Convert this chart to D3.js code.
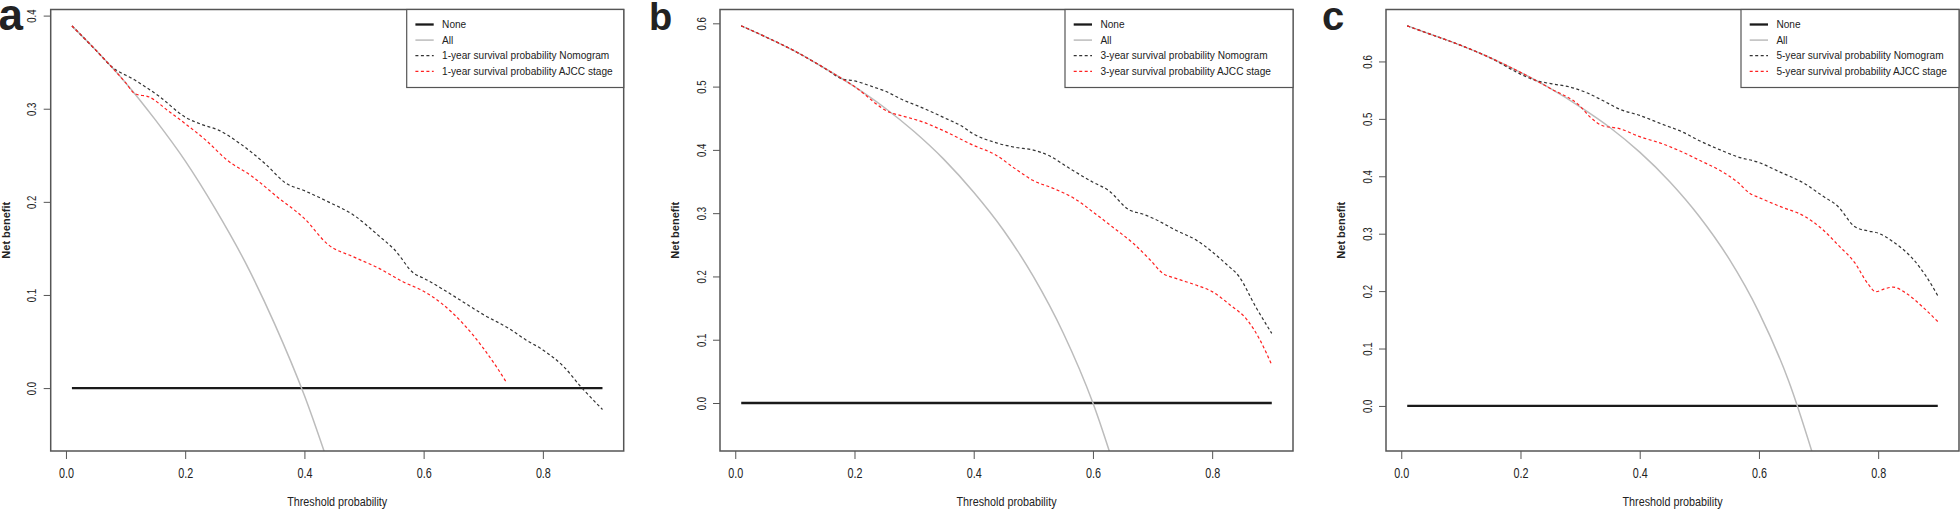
<!DOCTYPE html>
<html lang="en">
<head>
  <meta charset="UTF-8">
  <title>Decision curves</title>
  <script src="https://cdn.jsdelivr.net/npm/d3@7"></script>
  <style>
    body { margin: 0; background: #fff; }
    svg text { font-family: "Liberation Sans", Arial, Helvetica, sans-serif; fill: #222; }
  </style>
</head>
<body>
  <script>
    // data: [threshold, net benefit]
    var xTicks = [0, 0.2, 0.4, 0.6, 0.8];
    var yTicksA = [0, 0.1, 0.2, 0.3, 0.4];
    var yTicksB = [0, 0.1, 0.2, 0.3, 0.4, 0.5, 0.6];
    var yTicksC = [0, 0.1, 0.2, 0.3, 0.4, 0.5, 0.6];
    var noneLine = [[0.01, 0], [0.9, 0]];

    var allA = [[0.01,0.389],[0.05,0.363],[0.1,0.328],[0.15,0.288],[0.2,0.244],[0.25,0.193],[0.3,0.136],[0.35,0.069],[0.4,-0.008],[0.45,-0.100]];
    var nomA = [[0.01,0.389],[0.05,0.363],[0.077,0.345],[0.115,0.331],[0.157,0.313],[0.2,0.291],[0.228,0.283],[0.256,0.277],[0.291,0.263],[0.334,0.241],[0.369,0.220],[0.4,0.212],[0.44,0.200],[0.482,0.186],[0.524,0.164],[0.552,0.148],[0.584,0.123],[0.6,0.118],[0.63,0.107],[0.665,0.093],[0.7,0.079],[0.743,0.064],[0.771,0.052],[0.8,0.041],[0.835,0.023],[0.863,0.002],[0.9,-0.023]];
    var ajccA = [[0.01,0.389],[0.05,0.363],[0.1,0.328],[0.116,0.316],[0.14,0.3125],[0.171,0.298],[0.2,0.284],[0.235,0.266],[0.27,0.245],[0.313,0.227],[0.355,0.205],[0.4,0.182],[0.44,0.154],[0.482,0.141],[0.524,0.129],[0.566,0.114],[0.6,0.104],[0.63,0.091],[0.665,0.070],[0.7,0.043],[0.722,0.023],[0.738,0.007]];

    var allB = [[0.01,0.596],[0.05,0.579],[0.1,0.556],[0.15,0.529],[0.2,0.5],[0.25,0.467],[0.3,0.429],[0.35,0.385],[0.4,0.333],[0.45,0.273],[0.5,0.2],[0.55,0.111],[0.6,0.0],[0.65,-0.143]];
    var nomB = [[0.01,0.596],[0.05,0.579],[0.1,0.556],[0.15,0.529],[0.18,0.512],[0.2,0.509],[0.23,0.500],[0.251,0.493],[0.279,0.480],[0.315,0.466],[0.35,0.451],[0.379,0.438],[0.4,0.425],[0.435,0.412],[0.47,0.404],[0.499,0.400],[0.526,0.391],[0.562,0.370],[0.6,0.349],[0.626,0.336],[0.661,0.305],[0.682,0.299],[0.703,0.291],[0.739,0.273],[0.774,0.257],[0.8,0.239],[0.823,0.220],[0.845,0.200],[0.873,0.152],[0.9,0.110]];
    var ajccB = [[0.01,0.596],[0.05,0.579],[0.1,0.556],[0.15,0.529],[0.2,0.5],[0.26,0.459],[0.279,0.454],[0.315,0.444],[0.35,0.430],[0.4,0.407],[0.435,0.393],[0.47,0.370],[0.499,0.352],[0.534,0.339],[0.569,0.323],[0.6,0.302],[0.633,0.278],[0.668,0.252],[0.696,0.226],[0.717,0.205],[0.739,0.197],[0.774,0.186],[0.8,0.176],[0.83,0.155],[0.859,0.131],[0.88,0.100],[0.9,0.060]];

    var allC = [[0.01,0.662],[0.05,0.647],[0.1,0.628],[0.15,0.606],[0.2,0.581],[0.25,0.553],[0.3,0.521],[0.35,0.485],[0.4,0.442],[0.45,0.391],[0.5,0.330],[0.55,0.256],[0.6,0.163],[0.65,0.043],[0.7,-0.117]];
    var nomC = [[0.01,0.662],[0.05,0.647],[0.1,0.628],[0.15,0.606],[0.2,0.578],[0.225,0.567],[0.253,0.561],[0.281,0.556],[0.31,0.546],[0.338,0.532],[0.366,0.517],[0.4,0.506],[0.437,0.491],[0.472,0.477],[0.5,0.462],[0.535,0.446],[0.564,0.434],[0.6,0.424],[0.634,0.408],[0.677,0.387],[0.705,0.367],[0.733,0.347],[0.761,0.312],[0.782,0.305],[0.8,0.301],[0.825,0.286],[0.86,0.254],[0.881,0.225],[0.9,0.192]];
    var ajccC = [[0.01,0.662],[0.05,0.647],[0.1,0.628],[0.15,0.606],[0.2,0.581],[0.25,0.553],[0.3,0.522],[0.317,0.503],[0.338,0.488],[0.366,0.483],[0.4,0.469],[0.437,0.457],[0.472,0.442],[0.5,0.428],[0.535,0.410],[0.564,0.390],[0.585,0.370],[0.6,0.363],[0.634,0.348],[0.677,0.330],[0.705,0.309],[0.733,0.280],[0.761,0.249],[0.782,0.214],[0.796,0.199],[0.811,0.204],[0.825,0.207],[0.846,0.197],[0.874,0.173],[0.9,0.147]];

    var panels = [
      { letter: "a", years: "1-year", all: allA, nom: nomA, ajcc: ajccA, yTicks: yTicksA },
      { letter: "b", years: "3-year", all: allB, nom: nomB, ajcc: ajccB, yTicks: yTicksB },
      { letter: "c", years: "5-year", all: allC, nom: nomC, ajcc: ajccC, yTicks: yTicksC }
    ];

    // layout (pixels) for each panel
    var layout = [
      { left: 50.7, legendW: 217, letterX: -1.5, letterSize: 44 },
      { left: 720,  legendW: 228, letterX: 649,  letterSize: 38 },
      { left: 1386, legendW: 218, letterX: 1322, letterSize: 40 }
    ];
    var boxW = 573, boxTop = 9.5, boxBottom = 451;

    var svg = d3.select("body").append("svg")
      .attr("width", 1960).attr("height", 510);

    // R style axis range: data range padded by 4%
    function pad(lo, hi) {
      var s = hi - lo;
      return [lo - 0.04 * s, hi + 0.04 * s];
    }

    panels.forEach(function(p, i) {
      var L = layout[i];
      var g = svg.append("g");

      var scaleX = d3.scaleLinear().domain(pad(0.01, 0.9)).range([L.left, L.left + boxW]);
      var yMax = d3.max(p.all.concat(p.nom, p.ajcc), d => d[1]);
      var scaleY = d3.scaleLinear().domain(pad(-0.05, yMax)).range([boxBottom, boxTop]);

      var line = d3.line()
        .x(d => scaleX(d[0]))
        .y(d => scaleY(d[1]))
        .curve(d3.curveMonotoneX);

      g.append("clipPath").attr("id", "clip" + i)
        .append("rect")
        .attr("x", L.left).attr("y", boxTop)
        .attr("width", boxW).attr("height", boxBottom - boxTop);

      var plot = g.append("g").attr("clip-path", "url(#clip" + i + ")");

      /* LINES */
      plot.append("path").attr("d", line(noneLine))
        .attr("fill", "none").attr("stroke", "#1a1a1a").attr("stroke-width", 2.3);
      plot.append("path").attr("d", line(p.all))
        .attr("fill", "none").attr("stroke", "#bcbcbc").attr("stroke-width", 1.5);
      plot.append("path").attr("d", line(p.nom))
        .attr("fill", "none").attr("stroke", "#333").attr("stroke-width", 1.2)
        .attr("stroke-dasharray", "3,2.5");
      plot.append("path").attr("d", line(p.ajcc))
        .attr("fill", "none").attr("stroke", "#ff2020").attr("stroke-width", 1.2)
        .attr("stroke-dasharray", "3,2.5");

      /* AXES */
      var axisX = d3.axisBottom(scaleX).tickValues(xTicks)
        .tickFormat(d3.format(".1f")).tickSize(8).tickPadding(9);
      var gx = g.append("g").attr("transform", "translate(0," + boxBottom + ")").call(axisX);
      gx.select(".domain").remove();
      gx.selectAll("line").attr("stroke", "#555");
      gx.selectAll("text").attr("font-size", 14).attr("fill", "#222")
        .attr("font-family", null)
        .attr("transform", "scale(0.77,1)");

      var axisY = d3.axisLeft(scaleY).tickValues(p.yTicks)
        .tickFormat(d3.format(".1f")).tickSize(7);
      var gy = g.append("g").attr("transform", "translate(" + L.left + ",0)").call(axisY);
      gy.select(".domain").remove();
      gy.selectAll("line").attr("stroke", "#555");
      gy.selectAll("text")
        .attr("x", null).attr("dy", null)
        .attr("font-size", 13).attr("fill", "#222")
        .attr("font-family", null)
        .attr("text-anchor", "middle")
        .attr("transform", "translate(-14.4,0) rotate(-90) scale(0.74,1)");

      // box
      g.append("rect")
        .attr("x", L.left).attr("y", boxTop)
        .attr("width", boxW).attr("height", boxBottom - boxTop)
        .attr("fill", "none").attr("stroke", "#555").attr("stroke-width", 1.5);

      // axis titles
      g.append("text")
        .attr("transform", "translate(" + (L.left + boxW / 2) + ",506) scale(0.83,1)")
        .attr("text-anchor", "middle").attr("font-size", 13)
        .text("Threshold probability");

      g.append("text")
        .attr("transform", "translate(" + (L.left - 41) + "," + ((boxTop + boxBottom) / 2) + ") rotate(-90)")
        .attr("text-anchor", "middle").attr("font-size", 11).attr("font-weight", "bold")
        .text("Net benefit");

      // panel letter
      g.append("text")
        .attr("x", L.letterX).attr("y", 30)
        .attr("font-size", L.letterSize).attr("font-weight", "bold").attr("fill", "#000")
        .text(p.letter);

      /* LEGEND */
      var legX = L.left + boxW - L.legendW;
      var items = [
        { label: "None", stroke: "#1a1a1a", width: 2.3, dash: null },
        { label: "All", stroke: "#bcbcbc", width: 1.5, dash: null },
        { label: p.years + " survival probability Nomogram", stroke: "#333", width: 1.2, dash: "3,2.5" },
        { label: p.years + " survival probability AJCC stage", stroke: "#ff2020", width: 1.2, dash: "3,2.5" }
      ];
      g.append("rect")
        .attr("x", legX).attr("y", boxTop)
        .attr("width", L.legendW).attr("height", 78)
        .attr("fill", "#fff").attr("stroke", "#555").attr("stroke-width", 1.2);

      var leg = g.selectAll(".leg").data(items).enter().append("g")
        .attr("transform", (d, k) => "translate(" + legX + "," + (boxTop + 15 + k * 15.6) + ")");
      leg.append("line")
        .attr("x1", 8.7).attr("x2", 27).attr("y1", 0).attr("y2", 0)
        .attr("stroke", d => d.stroke).attr("stroke-width", d => d.width)
        .attr("stroke-dasharray", d => d.dash);
      leg.append("text")
        .attr("x", 35.4).attr("y", 3.6)
        .attr("font-size", 10.1)
        .text(d => d.label);
    });
  </script>
</body>
</html>
